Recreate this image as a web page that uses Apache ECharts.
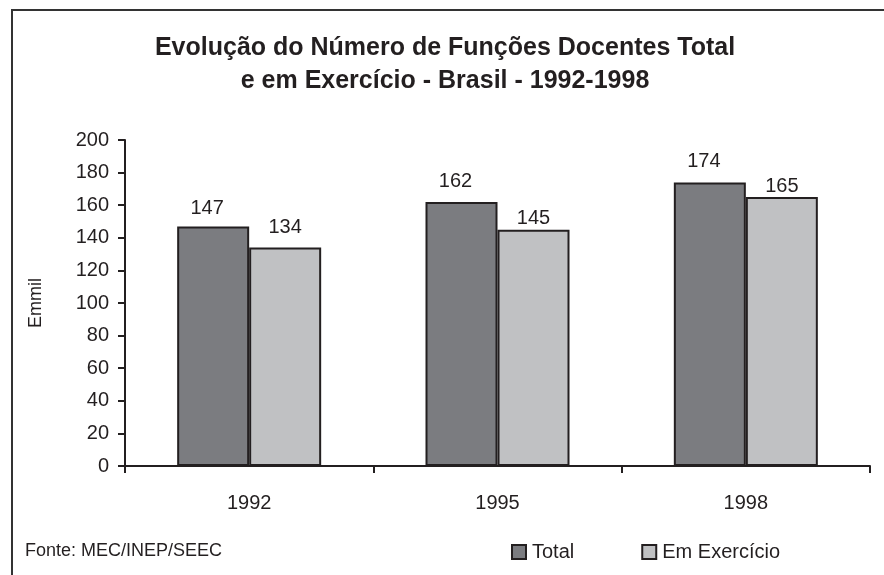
<!DOCTYPE html>
<html>
<head>
<meta charset="utf-8">
<script src="https://cdn.jsdelivr.net/npm/echarts@6/dist/echarts.min.js"></script>
<style>
  html, body { margin: 0; padding: 0; background: #fff; }
  #main { width: 884px; height: 575px; }
</style>
</head>
<body>
<div id="main"></div>
<script>
// dados do grafico
var anos = ['1992', '1995', '1998'];
var total = [147, 162, 174];
var emExercicio = [134, 145, 165];
var yTicks = [0, 20, 40, 60, 80, 100, 120, 140, 160, 180, 200];

var myChart = echarts.init(document.getElementById('main'));
var fonte = 'Liberation Sans, Arial, sans-serif';

// distancia dos rotulos acima de cada barra (como no original)
var distTotal = [8, 10, 11];
var distEm = [10, 1, 1];

function comRotulo(valores, dist) {
    return valores.map(function (v, i) {
        return { value: v, label: { distance: dist[i] } };
    });
}

var option = {
    backgroundColor: '#fff',
    animation: false,
    title: {
        text: 'Evolução do Número de Funções Docentes Total\ne em Exercício - Brasil - 1992-1998',
        left: 440,
        top: 27,
        textAlign: 'center',
        textStyle: {
            fontFamily: fonte,
            fontSize: 25,
            fontWeight: 'bold',
            color: '#231f20',
            lineHeight: 33
        }
    },
    graphic: [
        {
            type: 'rect',
            shape: { x: 12, y: 10, width: 900, height: 600 },
            style: { fill: 'none', stroke: '#333', lineWidth: 2 }
        },
        {
            type: 'text',
            left: 25,
            top: 542,
            style: { text: 'Fonte: MEC/INEP/SEEC', font: '18px ' + fonte, fill: '#231f20' }
        }
    ],
    legend: {
        left: 506,
        top: 537,
        itemWidth: 14,
        itemHeight: 14,
        itemGap: 67,
        icon: 'rect',
        textStyle: { fontFamily: fonte, fontSize: 20, color: '#231f20', padding: [6, 0, 0, 1] },
        data: ['Total', 'Em Exercício']
    },
    grid: {
        left: 125,
        right: 14,
        top: 140,
        bottom: 109
    },
    xAxis: {
        type: 'category',
        data: anos,
        axisLine: { lineStyle: { color: '#231f20', width: 2 } },
        axisTick: { show: true, length: 7, lineStyle: { color: '#231f20', width: 2 } },
        axisLabel: { fontFamily: fonte, fontSize: 20, color: '#231f20', margin: 27 }
    },
    yAxis: {
        type: 'value',
        min: yTicks[0],
        max: yTicks[yTicks.length - 1],
        interval: 20,
        name: 'Emmil',
        nameLocation: 'middle',
        nameGap: 80,
        nameTextStyle: { fontFamily: fonte, fontSize: 18, color: '#231f20' },
        axisLine: { show: true, lineStyle: { color: '#231f20', width: 2 } },
        axisTick: { show: true, length: 7, lineStyle: { color: '#231f20', width: 2 } },
        splitLine: { show: false },
        axisLabel: { fontFamily: fonte, fontSize: 20, color: '#231f20', margin: 16 }
    },
    series: [
        {
            name: 'Total',
            type: 'bar',
            data: comRotulo(total, distTotal),
            barWidth: 72,
            barGap: '0%',
            itemStyle: { color: '#7b7c80', borderColor: '#231f20', borderWidth: 2 },
            label: {
                show: true,
                position: 'top',
                offset: [-6, 0],
                fontFamily: fonte,
                fontSize: 20,
                color: '#231f20'
            }
        },
        {
            name: 'Em Exercício',
            type: 'bar',
            data: comRotulo(emExercicio, distEm),
            barWidth: 72,
            barGap: '0%',
            itemStyle: { color: '#c0c1c3', borderColor: '#231f20', borderWidth: 2 },
            label: {
                show: true,
                position: 'top',
                fontFamily: fonte,
                fontSize: 20,
                color: '#231f20'
            }
        }
    ]
};

myChart.setOption(option);
</script>
</body>
</html>
